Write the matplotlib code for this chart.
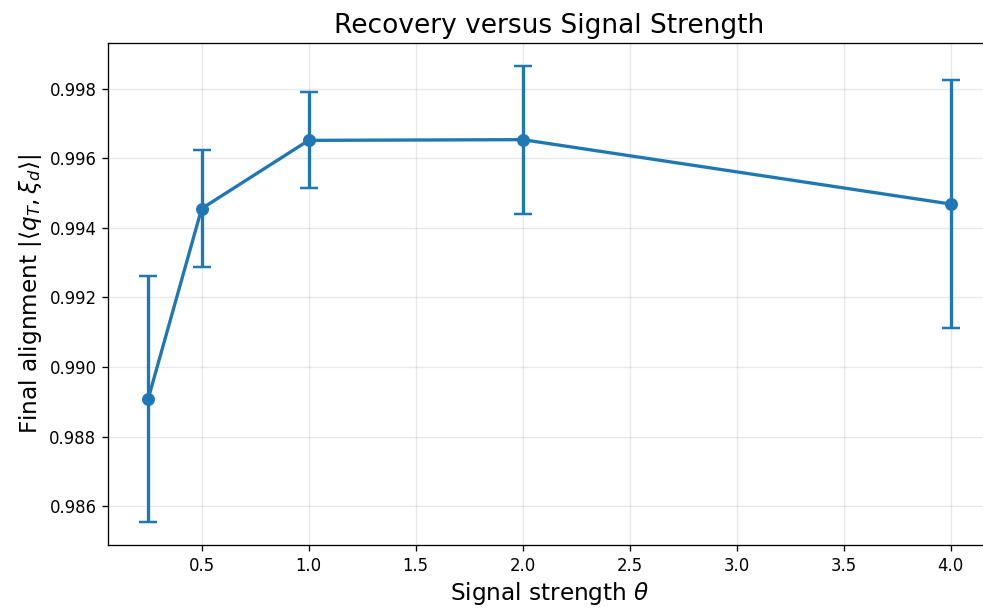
import matplotlib
matplotlib.use("Agg")
import matplotlib.pyplot as plt

theta = [0.25, 0.5, 1.0, 2.0, 4.0]
alignment = [0.98908, 0.99455, 0.99651, 0.99653, 0.99468]
errors = [0.00354, 0.00169, 0.00138, 0.00213, 0.00356]

s = 1.19
fig, ax = plt.subplots(figsize=(9.83, 6.1), dpi=100)
ax.errorbar(theta, alignment, yerr=errors, fmt='-o', color='#1f77b4',
            linewidth=2 * s, markersize=7 * s, capsize=5.5 * s, capthick=1.5 * s,
            elinewidth=2 * s)
ax.set_xlabel(r'Signal strength $\theta$', fontsize=14 * s)
ax.set_ylabel(r'Final alignment $|\langle q_T, \xi_d\rangle|$', fontsize=14 * s)
ax.set_title('Recovery versus Signal Strength', fontsize=16 * s, pad=6 * s)
ax.tick_params(labelsize=10 * s, length=3.5 * s, width=0.8 * s, pad=3.5 * s)
for sp in ax.spines.values():
    sp.set_linewidth(0.8 * s)
ax.grid(True, alpha=0.3, linewidth=0.8 * s)
fig.subplots_adjust(left=0.1099, right=1.008, top=0.930, bottom=0.1066)
fig.savefig('out.png', dpi=100)
